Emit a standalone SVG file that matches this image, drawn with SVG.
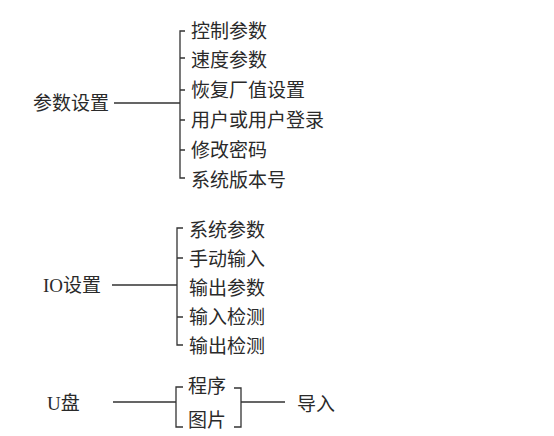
<svg xmlns="http://www.w3.org/2000/svg" width="554" height="436" viewBox="0 0 554 436">
<style>
text{font-family:"Liberation Serif","Noto Sans CJK SC",serif;font-size:19px;fill:#2a2a2a;dominant-baseline:central}
.c{fill:none;stroke:#333;stroke-width:1.3}
</style>
<rect width="554" height="436" fill="#fff"/>
<g id="connectors">
<path class="c" d="M114 103H180M185 31H180V178H185M180 58H185M180 90H185M180 120H185M180 150H185"/>
<path class="c" d="M112 285H177M183 228H177V345H183M177 258H183M177 317H183"/>
<path class="c" d="M113 402H176M183 387H176V427H183M234 388H241V427H234M241 402H285"/>
</g>
<g id="n-params"><text x="33" y="103">参数设置</text></g>
<g id="n-p1"><text x="191" y="31">控制参数</text></g>
<g id="n-p2"><text x="191" y="60">速度参数</text></g>
<g id="n-p3"><text x="191" y="90">恢复厂值设置</text></g>
<g id="n-p4"><text x="191" y="120">用户或用户登录</text></g>
<g id="n-p5"><text x="191" y="150">修改密码</text></g>
<g id="n-p6"><text x="191" y="180">系统版本号</text></g>
<g id="n-io"><text x="43" y="285">IO设置</text></g>
<g id="n-io1"><text x="189" y="230">系统参数</text></g>
<g id="n-io2"><text x="189" y="259">手动输入</text></g>
<g id="n-io3"><text x="189" y="288">输出参数</text></g>
<g id="n-io4"><text x="189" y="317">输入检测</text></g>
<g id="n-io5"><text x="189" y="346">输出检测</text></g>
<g id="n-u"><text x="47" y="403">U盘</text></g>
<g id="n-u1"><text x="188" y="386">程序</text></g>
<g id="n-u2"><text x="188" y="420">图片</text></g>
<g id="n-imp"><text x="297" y="404">导入</text></g>
</svg>
